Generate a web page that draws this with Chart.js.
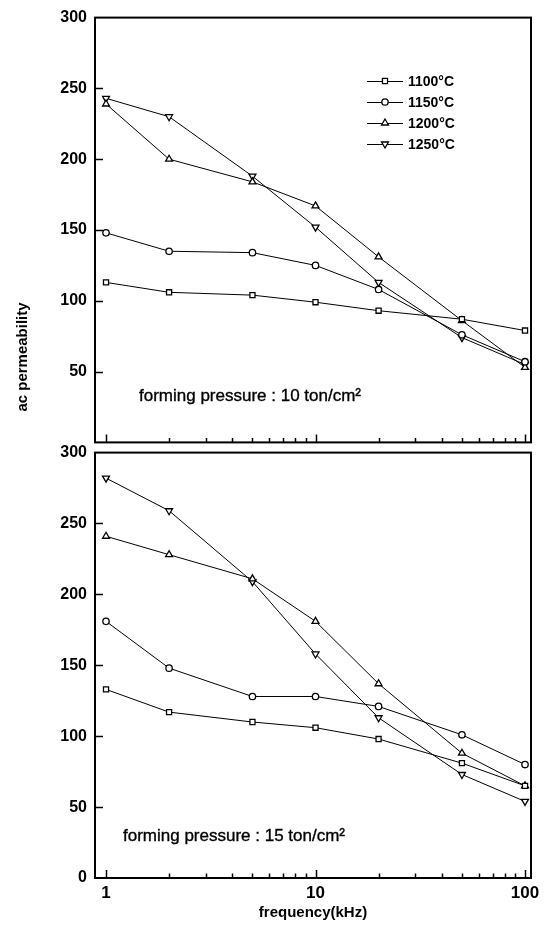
<!DOCTYPE html>
<html>
<head>
<meta charset="utf-8">
<script src="https://cdn.jsdelivr.net/npm/chart.js@4.4.1/dist/chart.umd.min.js"></script>
<style>
  html, body { margin: 0; padding: 0; background: #fff; }
  #wrap { position: relative; width: 546px; height: 927px; overflow: hidden; background: #fff; }
  #topPanel { position: absolute; left: 0; top: 0; }
  #bottomPanel { position: absolute; left: 0; top: 435px; }
</style>
</head>
<body>
<div id="wrap">
  <canvas id="topPanel" width="546" height="460"></canvas>
  <canvas id="bottomPanel" width="546" height="492"></canvas>
</div>
<script>
// Frequencies (kHz) and sintering temperatures
const frequencies = [1, 2, 5, 10, 20, 50, 100];
const temperatures = ['1100°C', '1150°C', '1200°C', '1250°C'];
const yTicks = [0, 50, 100, 150, 200, 250, 300];
const xLabelTicks = [1, 10, 100];

// ac permeability, forming pressure 10 ton/cm2
const p10_1100 = [113, 106, 104, 99, 93, 87, 79];
const p10_1150 = [148, 135, 134, 125, 108, 76, 57];
const p10_1200 = [239, 200, 184, 167, 131, 86, 53];
const p10_1250 = [243, 230, 188, 152, 113, 74, 55];

// ac permeability, forming pressure 15 ton/cm2
const p15_1100 = [133, 117, 110, 106, 98, 81, 65];
const p15_1150 = [181, 148, 128, 128, 121, 101, 80];
const p15_1200 = [241, 228, 211, 181, 137, 88, 65];
const p15_1250 = [282, 259, 209, 158, 113, 73, 54];

const panelTexts = ['forming pressure : 10 ton/cm²', 'forming pressure : 15 ton/cm²'];

const markerStyles = [
  { pointStyle: 'rect', rotation: 0, radius: 3.6 },
  { pointStyle: 'circle', rotation: 0, radius: 3.2 },
  { pointStyle: 'triangle', rotation: 0, radius: 4.0 },
  { pointStyle: 'triangle', rotation: 180, radius: 4.0 }
];

const X_MIN = 0.886, X_MAX = 106.8;
const FONT = '"Liberation Sans", Arial, sans-serif';

function makeDatasets(seriesList) {
  return seriesList.map((vals, i) => ({
    label: temperatures[i],
    data: frequencies.map((f, k) => ({ x: f, y: vals[k] })),
    borderColor: '#000',
    borderWidth: 1,
    backgroundColor: '#fff',
    pointBackgroundColor: '#fff',
    pointBorderColor: '#000',
    pointBorderWidth: 1.3,
    pointStyle: markerStyles[i].pointStyle,
    pointRotation: markerStyles[i].rotation,
    pointRadius: markerStyles[i].radius,
    pointHoverRadius: markerStyles[i].radius,
    tension: 0,
    fill: false,
    showLine: true
  }));
}

// Box frame with inward tick marks on the left and bottom edges
const framePlugin = {
  id: 'frame',
  afterDraw(chart, args, opts) {
    const { ctx, chartArea: a, scales } = chart;
    const xs = scales.x, ys = scales.y;
    ctx.save();
    ctx.strokeStyle = '#000';
    ctx.lineWidth = 2;
    ctx.strokeRect(a.left, a.top, a.right - a.left, a.bottom - a.top);
    ctx.lineWidth = 1.5;
    ctx.beginPath();
    yTicks.forEach(v => {
      if (v <= ys.min || v >= ys.max) return;
      const py = Math.round(ys.getPixelForValue(v)) + 0.5;
      ctx.moveTo(a.left, py);
      ctx.lineTo(a.left + 8, py);
    });
    [1, 10].forEach(decade => {
      for (let m = 1; m <= 9; m++) {
        const v = decade * m;
        const px = Math.round(xs.getPixelForValue(v)) + 0.5;
        const len = m === 1 ? 8 : 4.5;
        ctx.moveTo(px, a.bottom);
        ctx.lineTo(px, a.bottom - len);
      }
    });
    const p100 = Math.round(xs.getPixelForValue(100)) + 0.5;
    ctx.moveTo(p100, a.bottom);
    ctx.lineTo(p100, a.bottom - 8);
    ctx.stroke();

    // panel annotation
    ctx.fillStyle = '#000';
    ctx.strokeStyle = '#000';
    ctx.lineWidth = 0.35;
    ctx.font = '17px ' + FONT;
    ctx.textAlign = 'left';
    ctx.textBaseline = 'alphabetic';
    ctx.fillText(opts.text, opts.textX, a.bottom - opts.textUp);
    ctx.strokeText(opts.text, opts.textX, a.bottom - opts.textUp);
    ctx.restore();
  }
};

// Legend: short line with marker, then the temperature; plus the shared y title
const legendPlugin = {
  id: 'tempLegend',
  afterDraw(chart) {
    const { ctx } = chart;
    const rows = [81, 102, 123, 144];
    ctx.save();
    temperatures.forEach((t, i) => {
      const y = rows[i];
      ctx.strokeStyle = '#000';
      ctx.lineWidth = 1;
      ctx.beginPath();
      ctx.moveTo(367, y + 0.5);
      ctx.lineTo(403, y + 0.5);
      ctx.stroke();
      ctx.fillStyle = '#fff';
      ctx.strokeStyle = '#000';
      ctx.lineWidth = 1.3;
      Chart.helpers.drawPoint(ctx, {
        pointStyle: markerStyles[i].pointStyle,
        rotation: markerStyles[i].rotation,
        radius: markerStyles[i].radius,
        borderWidth: 1.3
      }, 385, y);
      ctx.fillStyle = '#000';
      ctx.font = 'bold 14px ' + FONT;
      ctx.textAlign = 'left';
      ctx.textBaseline = 'middle';
      ctx.fillText(t, 408, y + 1);
    });
    ctx.translate(23, 357);
    ctx.rotate(-Math.PI / 2);
    ctx.fillStyle = '#000';
    ctx.font = 'bold 15px ' + FONT;
    ctx.textAlign = 'center';
    ctx.textBaseline = 'middle';
    ctx.fillText('ac permeability', 0, 0);
    ctx.restore();
  }
};

function yScale(hideZero) {
  return {
    type: 'linear',
    min: 0,
    max: 300,
    afterBuildTicks: s => { s.ticks = yTicks.map(v => ({ value: v })); },
    afterFit: s => { s.width = 95; },
    grid: { display: false, drawTicks: false },
    border: { display: false },
    ticks: {
      color: '#000',
      padding: 8,
      font: { family: FONT, size: 16, weight: 'bold' },
      callback: v => (hideZero && v === 0) ? '' : String(v)
    }
  };
}

const common = {
  responsive: false,
  animation: false,
  events: [],
  plugins: { legend: { display: false }, tooltip: { enabled: false } }
};

new Chart(document.getElementById('topPanel'), {
  type: 'scatter',
  data: { datasets: makeDatasets([p10_1100, p10_1150, p10_1200, p10_1250]) },
  options: Object.assign({}, common, {
    layout: { padding: { left: 0, top: 15, right: 15, bottom: 10 } },
    plugins: Object.assign({}, common.plugins, {
      frame: { text: panelTexts[0], textX: 139, textUp: 41 }
    }),
    scales: {
      x: { type: 'logarithmic', min: X_MIN, max: X_MAX, display: false },
      y: yScale(true)
    }
  }),
  plugins: [framePlugin, legendPlugin]
});

new Chart(document.getElementById('bottomPanel'), {
  type: 'scatter',
  data: { datasets: makeDatasets([p15_1100, p15_1150, p15_1200, p15_1250]) },
  options: Object.assign({}, common, {
    layout: { padding: { left: 0, top: 15, right: 15, bottom: 0 } },
    plugins: Object.assign({}, common.plugins, {
      frame: { text: panelTexts[1], textX: 123, textUp: 37 }
    }),
    scales: {
      x: {
        type: 'logarithmic',
        min: X_MIN,
        max: X_MAX,
        afterBuildTicks: s => { s.ticks = xLabelTicks.map(v => ({ value: v })); },
        afterFit: s => { s.height = 49; },
        grid: { display: false, drawTicks: false },
        border: { display: false },
        ticks: {
          color: '#000',
          padding: 5,
          maxRotation: 0,
          autoSkip: false,
          font: { family: FONT, size: 17, weight: 'bold' },
          callback: v => String(v)
        },
        title: {
          display: true,
          text: 'frequency(kHz)',
          color: '#000',
          font: { family: FONT, size: 15, weight: 'bold' },
          padding: { top: 0, bottom: 5 }
        }
      },
      y: yScale(false)
    }
  }),
  plugins: [framePlugin]
});
</script>
</body>
</html>
